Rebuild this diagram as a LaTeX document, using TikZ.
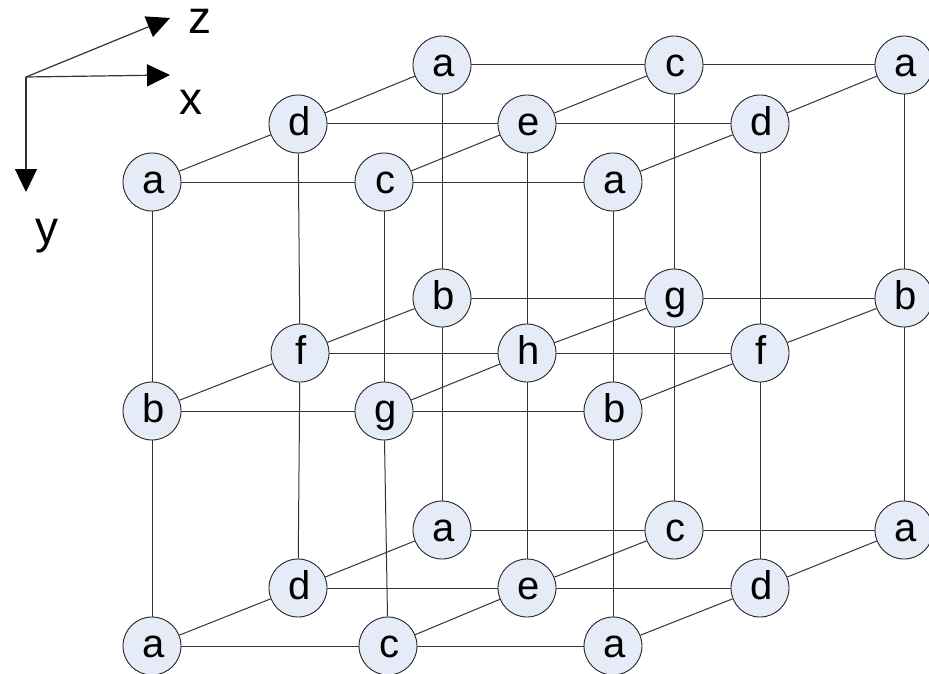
\documentclass[tikz,border=0pt]{standalone}
\usepackage{fontspec}
\setmainfont{Liberation Sans}
\usetikzlibrary{arrows.meta}
\definecolor{vfill}{HTML}{E6ECF7}
\tikzset{
  vertex/.style={circle,draw=black!85,line width=0.9pt,fill=vfill,minimum size=58pt,inner sep=0pt,font=\fontsize{40}{40}\selectfont},
  edge/.style={draw=black!80,line width=1pt},
  axis/.style={draw=black!80,line width=1.2pt,-{Triangle[length=23pt,width=22pt,fill=black,color=black]}},
  axlabel/.style={inner sep=0pt,anchor=base,font=\fontsize{46}{46}\selectfont}
}
\pgfdeclarelayer{bg}\pgfsetlayers{bg,main}
\begin{document}
\begin{tikzpicture}[x=1pt,y=-1pt]
\path[use as bounding box] (0,0) rectangle (929,674);
\foreach \n/\t/\x/\y in {
 A1/a/442/65,A2/c/674/65,A3/a/904/65,
 A4/d/298/124,A5/e/527/124,A6/d/760/124,
 A7/a/152/182,A8/c/384/182,A9/a/613/182,
 B1/b/442/298,B2/g/674/298,B3/b/904/298,
 B4/f/300/353,B5/h/527/353,B6/f/760/353,
 B7/b/152/411,B8/g/384/411,B9/b/613/411,
 C1/a/442/530,C2/c/674/530,C3/a/904/530,
 C4/d/298/588,C5/e/527/588,C6/d/760/588,
 C7/a/152/646,C8/c/388/646,C9/a/613/646}{
  \node[vertex] (\n) at (\x,\y) {\smash{\raisebox{-11.5pt}{\hspace*{3pt}\t}}};
}
\begin{pgfonlayer}{bg}
\foreach \L in {A,B,C}{
  \foreach \p/\q in {1/2,2/3,4/5,5/6,7/8,8/9,7/4,4/1,8/5,5/2,9/6,6/3}{
    \draw[edge] (\L\p) -- (\L\q);
  }
}
\foreach \p in {1,...,9}{
  \draw[edge] (A\p) -- (B\p);
  \draw[edge] (B\p) -- (C\p);
}
\end{pgfonlayer}
\coordinate (O) at (26,77);
\coordinate (Z) at (170,18);
\coordinate (X) at (170,75);
\coordinate (Y) at (26,192);
\draw[axis] (O) -- (Z);
\draw[axis] (O) -- (X);
\draw[axis] (O) -- (Y);
\node[axlabel] (zl) at (200,34) {z};
\node[axlabel] (xl) at (191,115) {x};
\node[axlabel] (yl) at (47,243) {y};
\end{tikzpicture}
\end{document}
